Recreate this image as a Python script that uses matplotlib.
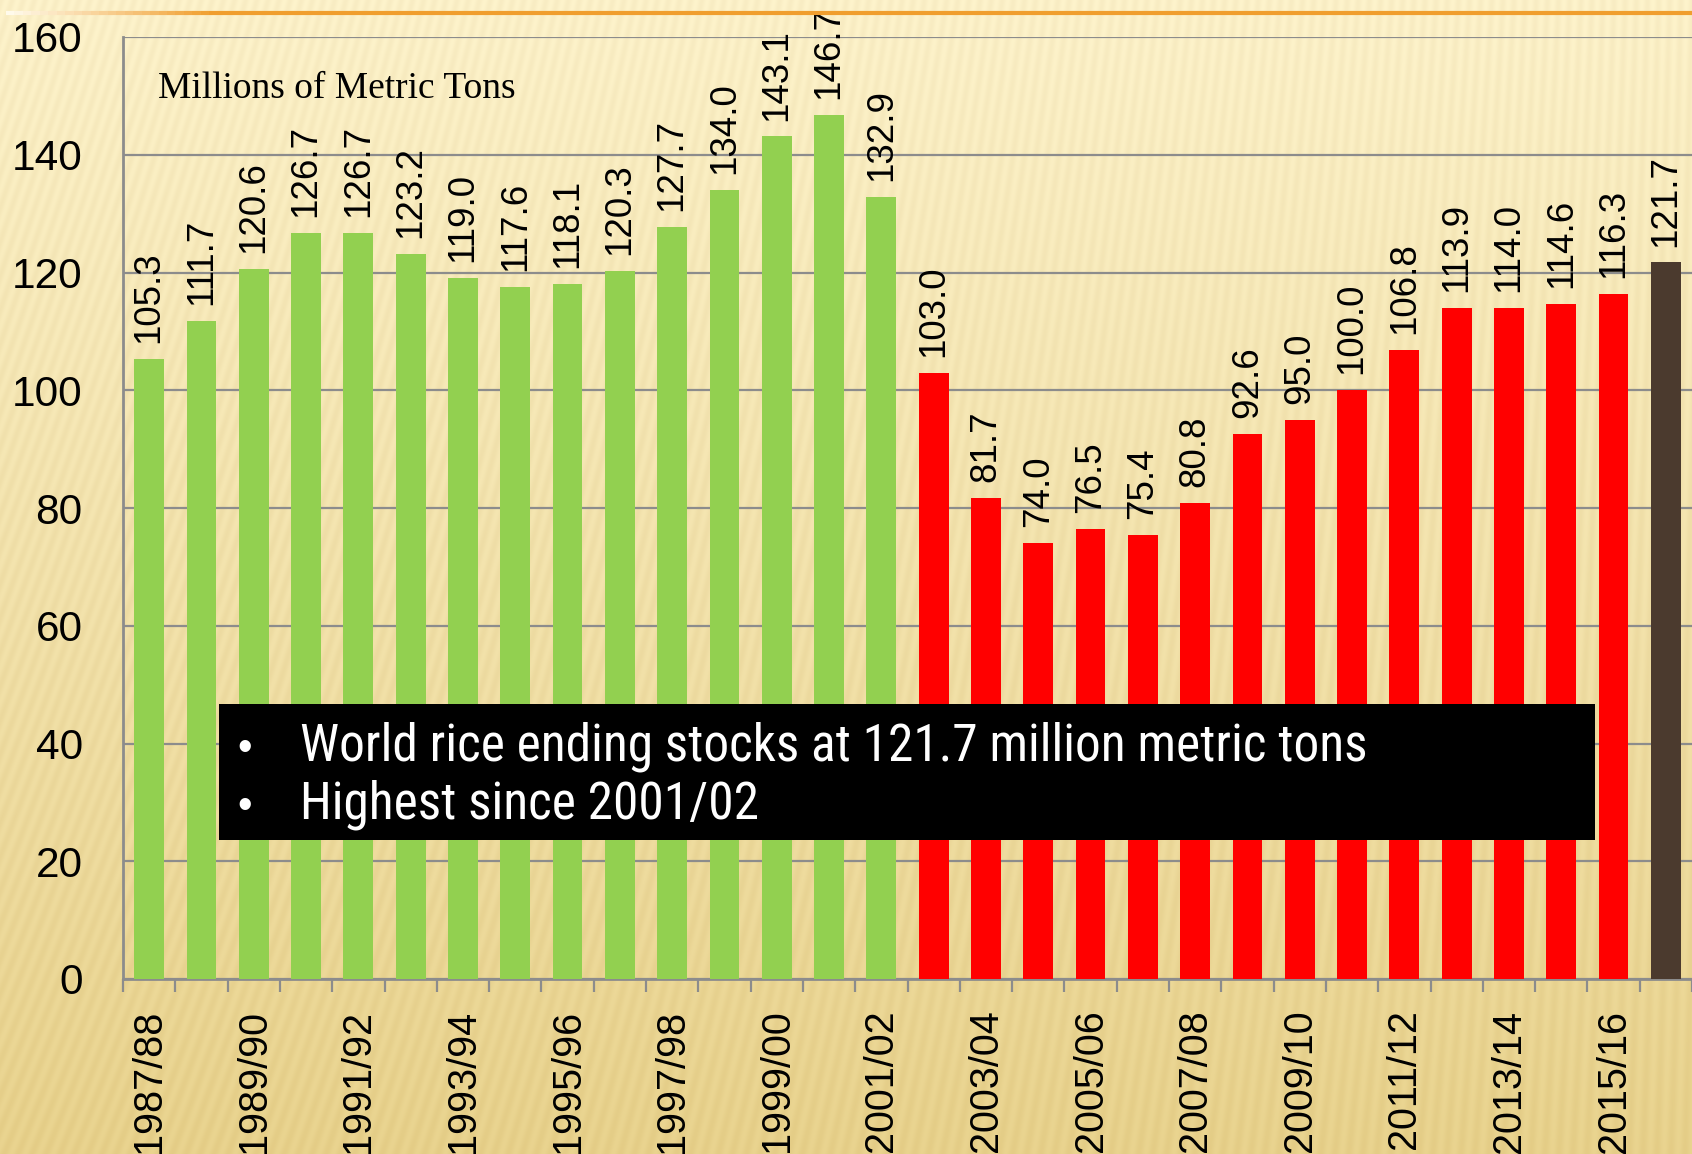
import matplotlib
matplotlib.use('Agg')
import matplotlib.pyplot as plt
from matplotlib.collections import LineCollection
from matplotlib import font_manager
import numpy as np

# ---- data -------------------------------------------------------------
years = ["1987/88", "1988/89", "1989/90", "1990/91", "1991/92", "1992/93",
         "1993/94", "1994/95", "1995/96", "1996/97", "1997/98", "1998/99",
         "1999/00", "2000/01", "2001/02", "2002/03", "2003/04", "2004/05",
         "2005/06", "2006/07", "2007/08", "2008/09", "2009/10", "2010/11",
         "2011/12", "2012/13", "2013/14", "2014/15", "2015/16", "2016/17"]
stocks = [105.3, 111.7, 120.6, 126.7, 126.7, 123.2, 119.0, 117.6, 118.1, 120.3,
          127.7, 134.0, 143.1, 146.7, 132.9, 103.0, 81.7, 74.0, 76.5, 75.4,
          80.8, 92.6, 95.0, 100.0, 106.8, 113.9, 114.0, 114.6, 116.3, 121.7]
groups = ["old"] * 15 + ["decline"] * 14 + ["current"]
notes = ["World rice ending stocks at 121.7 million metric tons",
         "Highest since 2001/02"]

COLORS = {"old": "#92D050", "decline": "#FF0000", "current": "#4B3A2E"}

W, H = 1692, 1154
fig = plt.figure(figsize=(W / 100, H / 100), dpi=100)


def pick_condensed():
    """Find a narrow sans face if one is installed."""
    names = {f.name for f in font_manager.fontManager.ttflist}
    for n in ['Liberation Sans Narrow', 'Roboto Condensed', 'Open Sans Condensed',
              'Noto Sans Condensed', 'DejaVu Sans Condensed']:
        if n in names:
            return dict(family=n), 37
    for f in font_manager.fontManager.ttflist:
        if f.name == 'DejaVu Sans' and f.stretch == 'condensed' and f.weight == 400 and f.style == 'normal':
            return dict(family='DejaVu Sans', stretch='condensed'), 33
    return dict(family='Liberation Sans'), 33.5


# ---- textured beige background ---------------------------------------
yy, xx = np.mgrid[0:H, 0:W].astype(float)
tilt = 0.38 * (1 - xx / W) + 0.03
phase = (xx - tilt * (H - yy)) / 14.0
stripes = 0.5 + 0.5 * np.sin(2 * np.pi * phase)
grad = yy / H
top = np.array([0.995, 0.955, 0.80])
bot = np.array([0.915, 0.83, 0.56])
img = top[None, None, :] * (1 - grad[..., None]) + bot[None, None, :] * grad[..., None]
img = img - 0.035 * stripes[..., None] * np.array([0.6, 0.8, 1.0])
img = np.clip(img, 0, 1)
bg = fig.add_axes([0, 0, 1, 1], zorder=-10)
bg.imshow(img, aspect='auto', extent=[0, 1, 0, 1])
bg.axis('off')

# orange rule at top (fades in from the left)
xs = np.linspace(6 / W, 1, 200)
ys = np.full_like(xs, 1 - 13 / H)
segs = np.stack([np.column_stack([xs[:-1], ys[:-1]]), np.column_stack([xs[1:], ys[1:]])], axis=1)
fade = np.clip((xs[:-1] - 6 / W) / 0.12, 0, 1)
orange = np.array([0.94, 0.62, 0.18])
white = np.array([1.0, 0.98, 0.92])
cols = white[None, :] * (1 - fade[:, None]) + orange[None, :] * fade[:, None]
fig.add_artist(LineCollection(segs, colors=cols, linewidths=3, transform=fig.transFigure))

# ---- bar chart -------------------------------------------------------
ax = fig.add_axes([123 / W, 1 - 979 / H, 1 - 123 / W, (979 - 37) / H])
ax.patch.set_alpha(0)

x = np.arange(len(years))
ax.bar(x, stocks, width=0.57, color=[COLORS[g] for g in groups], zorder=3)

for xi, v in zip(x, stocks):
    ax.annotate(f"{v:.1f}", (xi, v), xytext=(0, 11.5), textcoords='offset points',
                rotation=90, ha='center', va='bottom', fontsize=26.5,
                family='Liberation Sans', color='black', zorder=4)

ax.set_xlim(-0.5, len(years) - 0.5)
ax.set_ylim(0, 160)
ax.set_yticks(np.arange(0, 161, 20))
ax.set_yticklabels([str(v) for v in range(0, 161, 20)], fontsize=30.5, family='Liberation Sans')
ax.tick_params(axis='y', length=0, pad=29)
ax.grid(axis='y', color='#8C8C8C', linewidth=1.6, zorder=0)

ax.set_xticks(x[::2])
ax.set_xticklabels(years[::2], rotation=90, fontsize=28.5, family='Liberation Sans')
ax.set_xticks(np.arange(-0.5, len(years), 1), minor=True)
ax.tick_params(axis='x', which='major', length=0, pad=22)
ax.tick_params(axis='x', which='minor', length=9, width=1.6, color='#8C8C8C')

for s in ['top', 'right']:
    ax.spines[s].set_visible(False)
for s in ['left', 'bottom']:
    ax.spines[s].set_color('#8C8C8C')
    ax.spines[s].set_linewidth(2)

ax.text(158 / W, 1 - 98 / H, "Millions of Metric Tons", transform=fig.transFigure,
        fontsize=27, family='Liberation Serif', va='baseline', ha='left')

# ---- black call-out box ---------------------------------------------
box_l, box_t, box_r, box_b = 219, 704, 1595, 840
fig.patches.append(plt.Rectangle((box_l / W, 1 - box_b / H), (box_r - box_l) / W,
                                 (box_b - box_t) / H, transform=fig.transFigure,
                                 facecolor='black', edgecolor='none', zorder=5))
font_kw, note_size = pick_condensed()
for line, base in zip(notes, [760, 818]):
    fig.text(245 / W, 1 - base / H, "\u2022", color='white', fontsize=30,
             family='Liberation Sans', ha='center', va='baseline', zorder=6)
    fig.text(300 / W, 1 - base / H, line, color='white', fontsize=note_size,
             ha='left', va='baseline', zorder=6, **font_kw)

fig.savefig('out.png', dpi=100)
